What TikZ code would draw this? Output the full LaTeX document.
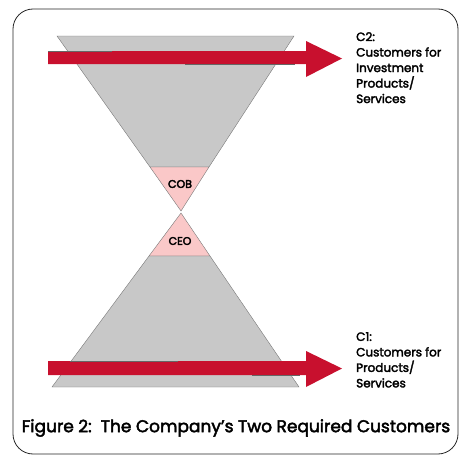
\documentclass[tikz,border=0pt]{standalone}
\usepackage{fontspec}
\setmainfont{Poppins}
\newfontfamily\labelfont{Poppins}[FakeBold=2.6]
\newfontfamily\seatfont{Poppins}[FakeBold=3.5]
\definecolor{funnelgray}{RGB}{200,200,200}
\definecolor{edgegray}{RGB}{120,120,120}
\definecolor{flowred}{RGB}{200,16,46}
\definecolor{seatpink}{RGB}{250,200,200}
\begin{document}
\begin{tikzpicture}[x=1pt,y=-1pt,
  frame/.style={draw=black!85,line width=0.8pt,rounded corners=20pt},
  funnel/.style={fill=funnelgray,draw=edgegray,line width=0.4pt},
  seat/.style={fill=seatpink,draw=edgegray,line width=0.4pt},
  flow/.style={fill=flowred,draw=none},
  seam/.style={draw=black!60,line width=0.5pt},
  seatlabel/.style={font=\seatfont\fontsize{11}{12}\selectfont,inner sep=0pt},
  sidelabel/.style={font=\labelfont\fontsize{12}{15.5}\selectfont,align=left,anchor=north west,inner sep=0pt},
  caption/.style={font=\labelfont\fontsize{17}{19}\selectfont,inner sep=0pt}]
\useasboundingbox (0,0) rectangle (459,455);
% outer frame
\draw[frame] (13,9) rectangle (458,454);
% upper funnel and the COB seat
\draw[funnel] (57,36) -- (294,36) -- (209,167) -- (150,167) -- cycle;
\draw[seat] (150,167) -- (209,167) -- (181,211) -- cycle;
% lower funnel and the CEO seat
\draw[seat] (181,213) -- (210,256) -- (149,256) -- cycle;
\draw[funnel] (149,256) -- (210,256) -- (299,387) -- (52,387) -- cycle;
\node[seatlabel] (cob) at (180,184) {COB};
\node[seatlabel] (ceo) at (180,241) {CEO};
% upper flow arrow (C2)
\draw[flow] (48,51) -- (306,51) -- (306,41) -- (342,58.5) -- (306,77) -- (306,64) -- (48,64) -- cycle;
\draw[seam] (48,51) -- (112,51);
\draw[seam] (185,64) -- (295,64);
% lower flow arrow (C1)
\draw[flow] (48,361) -- (306,361) -- (306,351) -- (342,368.5) -- (306,387) -- (306,375) -- (48,375) -- cycle;
\draw[seam] (70,361) -- (178,361);
\draw[seam] (252,375) -- (300,375);
% customer labels
\node[sidelabel] (c2) at (356,32) {C2:\\Customers for\\Investment\\Products/\\Services};
\node[sidelabel] (c1) at (356,332) {C1:\\Customers for\\Products/\\Services};
% caption
\node[caption] (cap) at (236,428) {Figure 2:\ \ The Company’s Two Required Customers};
\end{tikzpicture}
\end{document}
